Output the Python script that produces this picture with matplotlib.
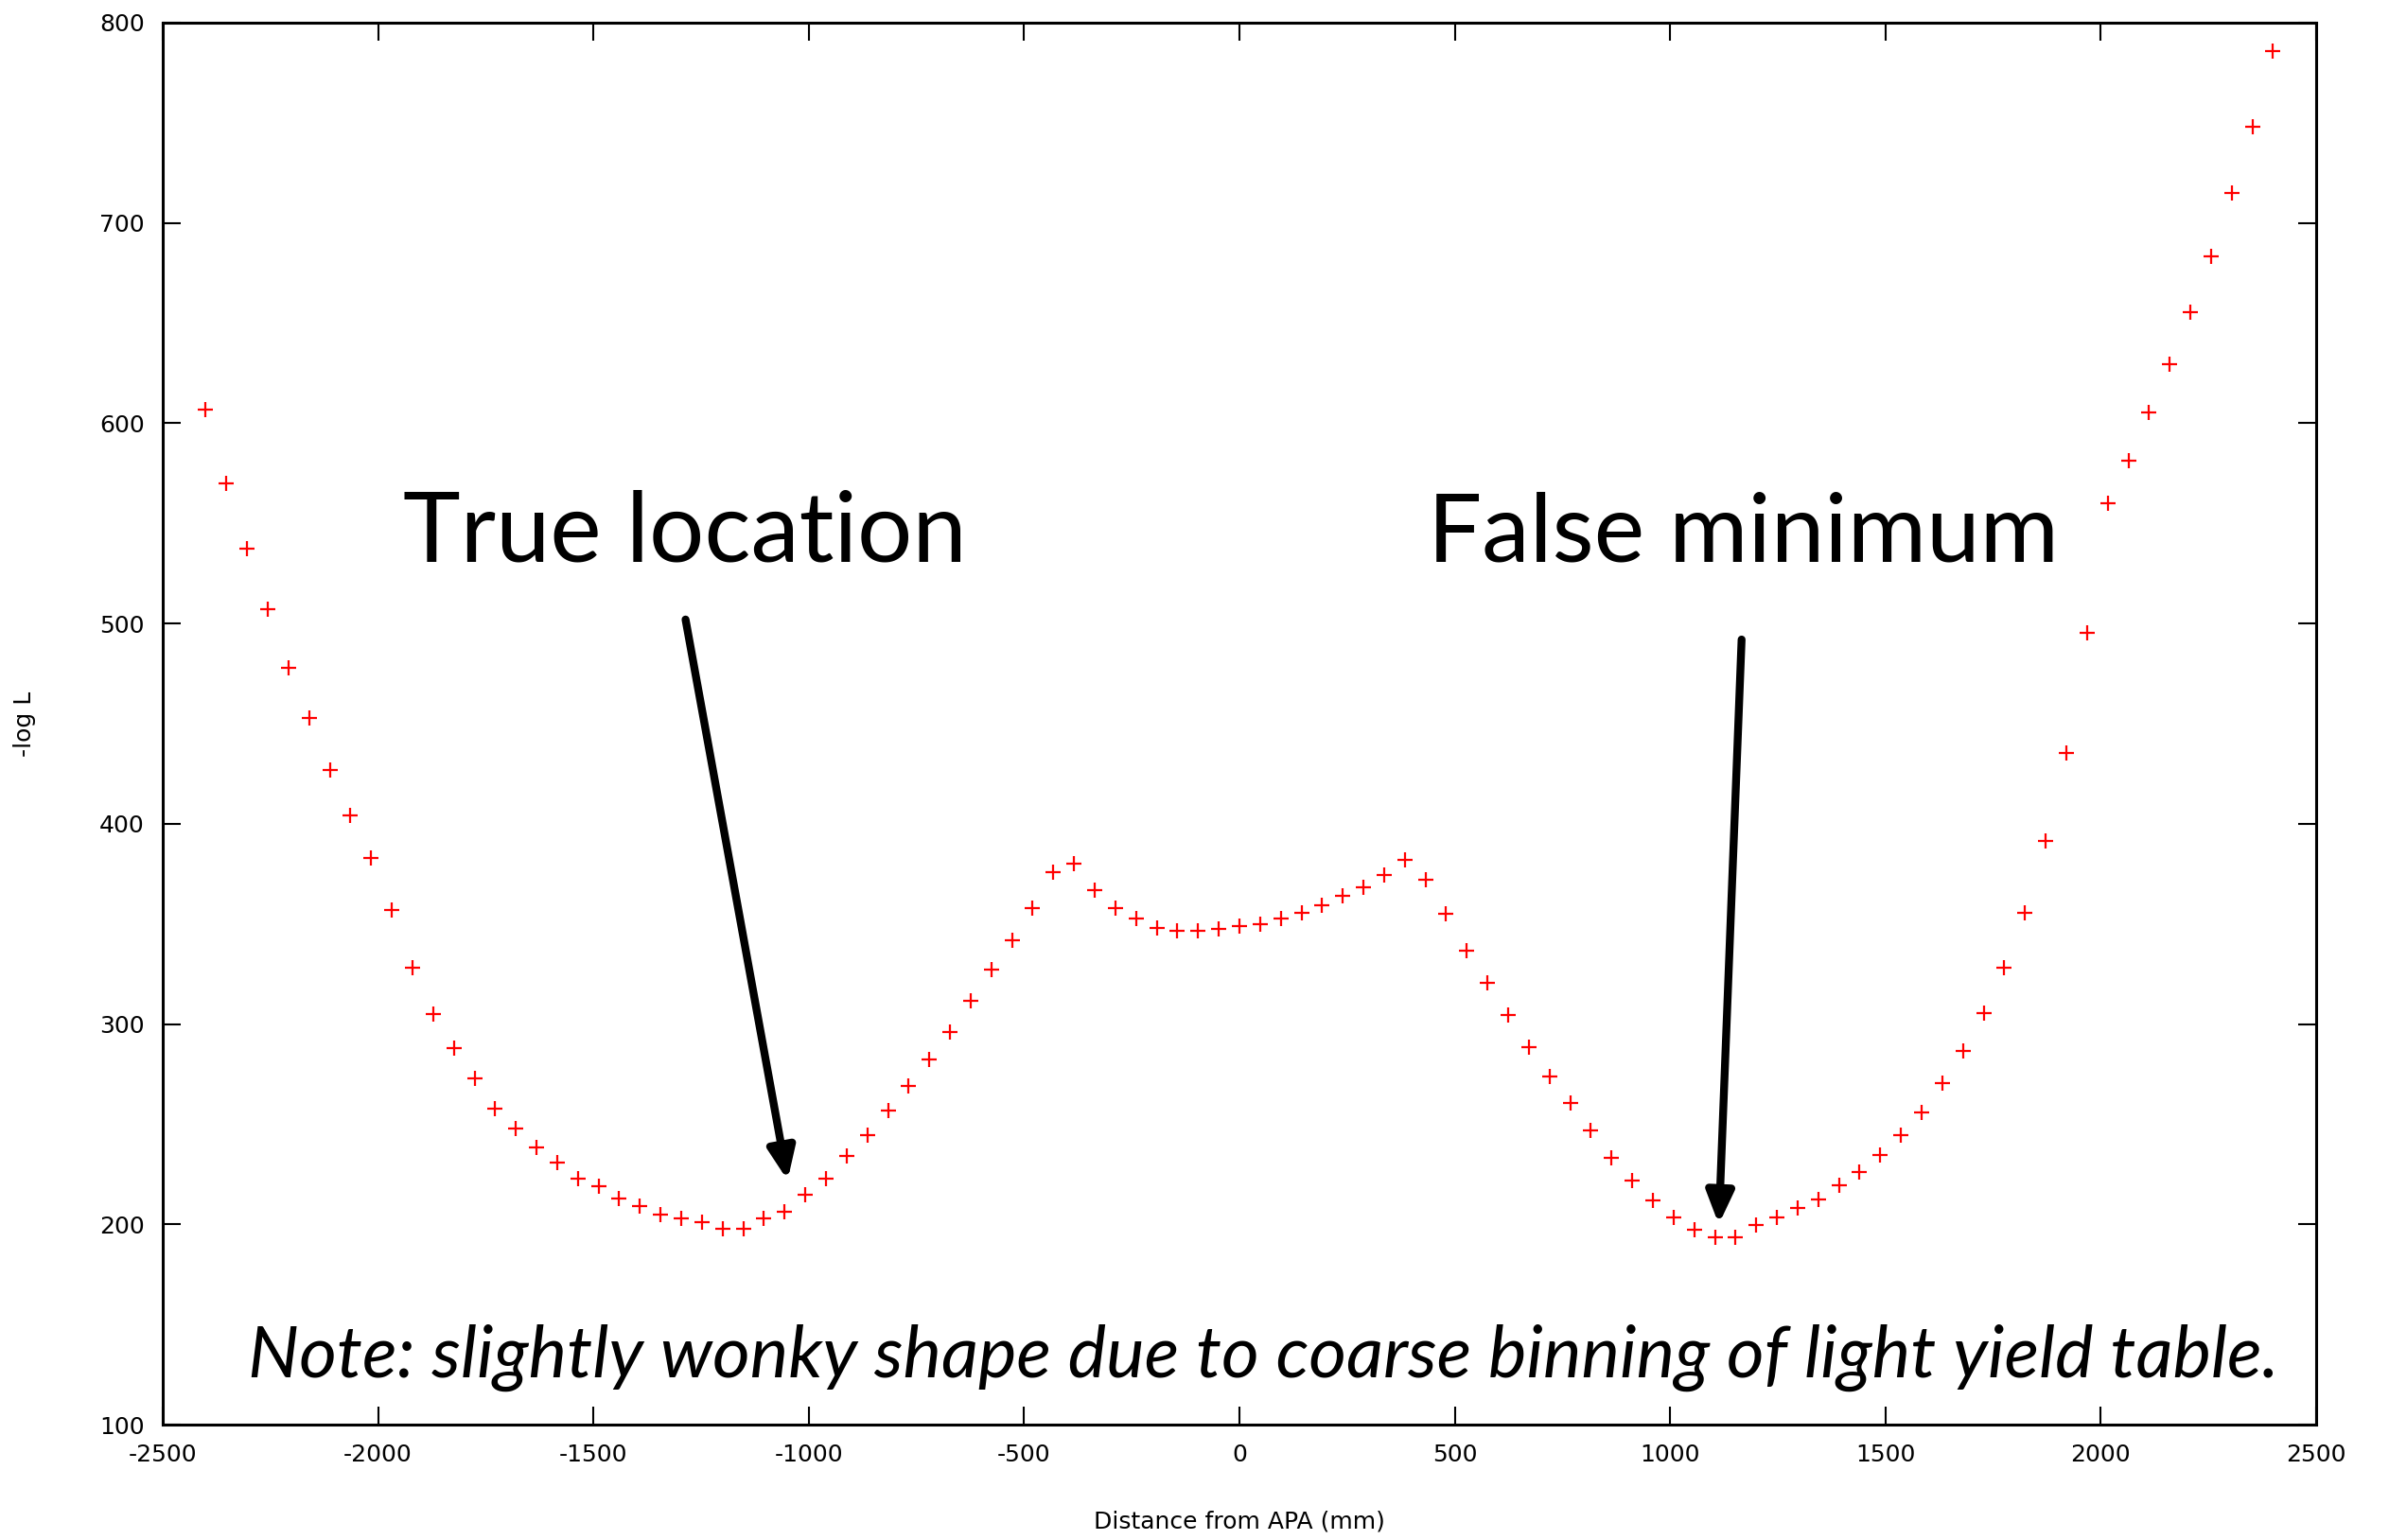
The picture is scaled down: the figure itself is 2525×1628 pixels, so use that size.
import numpy as np
import matplotlib
matplotlib.use('Agg')
import matplotlib.pyplot as plt

plt.rcParams['axes.unicode_minus'] = False

# distance from APA (mm), 48 mm steps
distance = np.linspace(-2400, 2400, 101)

# -log L
negLogL = [607, 570, 537.5, 507, 478, 453, 427, 404, 383, 357,
           328, 305, 288, 273, 258, 248, 238.5, 231, 223, 219,
           213, 209, 205, 203, 201, 198, 198, 203, 206.5, 215,
           223, 234, 244.5, 257, 269, 282.5, 296, 311.5, 327, 342,
           358, 376, 380, 367, 358, 352.5, 348, 346.5, 346.5, 347.5,
           349, 350, 352.5, 355.5, 359.5, 364, 368.5, 374.5, 382, 372,
           355, 336.5, 320.5, 304.5, 288.5, 274, 260.5, 247, 233, 222,
           212, 203.5, 197.5, 193.5, 193.5, 199.5, 203.5, 208, 212.5, 219.5,
           226, 234.5, 244.5, 256, 270.5, 286.5, 305.5, 328, 355.5, 391.5,
           435.5, 495.5, 560, 581.5, 605.5, 629.5, 655.5, 683.5, 715, 748,
           786]

xticks = [-2500, -2000, -1500, -1000, -500, 0, 500, 1000, 1500, 2000, 2500]
yticks = [100, 200, 300, 400, 500, 600, 700, 800]

fig = plt.figure(figsize=(25.25, 16.28), dpi=100)
ax = fig.add_axes([0.0681, 0.0749, 0.9014, 0.9104])

ax.plot(distance, negLogL, linestyle='none', marker='+', color='red',
        markersize=12, markeredgewidth=1.6)

ax.set_xlim(-2500, 2500)
ax.set_ylim(100, 800)
ax.set_xticks(xticks)
ax.set_yticks(yticks)
ax.tick_params(direction='in', length=14, width=1.5, top=True, right=True,
               labelsize=18, pad=14, colors='black')
for s in ax.spines.values():
    s.set_linewidth(2.2)

ax.set_xlabel('Distance from APA (mm)', fontsize=18, labelpad=34)
ax.set_ylabel('-log L', fontsize=18, labelpad=48)

# annotations
ax.text(-1941, 531, 'True location', fontsize=74, family='Lato', va='baseline')
ax.text(437, 531, 'False minimum', fontsize=73, family='Lato', va='baseline')
ax.text(-2302, 124, 'Note: slightly wonky shape due to coarse binning of light yield table.',
        fontsize=55, family='Lato', style='italic', va='baseline')

ax.annotate('', xy=(-1049, 222), xytext=(-1286, 502),
            arrowprops=dict(arrowstyle='-|>,head_length=2.0,head_width=0.85',
                            color='black', lw=6, shrinkA=0, shrinkB=0))
ax.annotate('', xy=(1113, 200), xytext=(1166, 492),
            arrowprops=dict(arrowstyle='-|>,head_length=2.0,head_width=0.85',
                            color='black', lw=6, shrinkA=0, shrinkB=0))

fig.savefig('out.png', dpi=100)
